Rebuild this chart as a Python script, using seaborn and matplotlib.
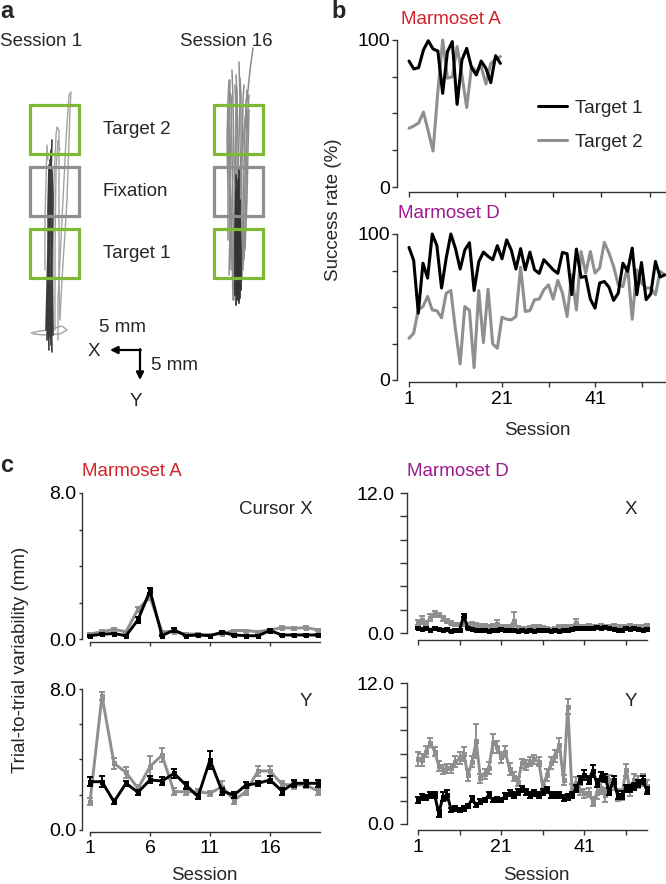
import numpy as np
import pandas as pd
import matplotlib
matplotlib.use("Agg")
import matplotlib.pyplot as plt
import seaborn as sns
from matplotlib.patches import Rectangle
from matplotlib.lines import Line2D

sns.set_theme(style="white")
plt.rcParams['font.family'] = ['Liberation Sans', 'DejaVu Sans']

# ---------------- data ----------------
# panel b: success rate (%)
sessions_A = list(range(1, 21))
successA_t1 = [85.7, 80.3, 81.2, 93.2, 99.5, 93.9, 92.5, 63.7, 92.1, 98.9,
               56.2, 86.4, 94.3, 81.2, 76.2, 85.7, 80.7, 71.0, 89.3, 84.1]
successA_t2 = [40.0, 41.5, 43.5, 51.0, 38.0, 24.5, 65.0, 100.0, 74.0, 75.0,
               95.5, 76.0, 54.0, 82.0, 78.5, 82.0, 70.0, 84.0, 87.0, 88.7]

sessions_D = list(range(1, 57))
successD_t1 = [90.8, 82.0, 45.8, 80.0, 69.8, 100.0, 92.0, 63.0, 83.5, 100.0,
               90.0, 76.0, 89.0, 94.0, 61.3, 81.0, 87.6, 84.7, 82.4, 92.0,
               83.0, 96.0, 89.0, 76.0, 90.0, 75.5, 87.6, 75.5, 73.0, 82.4,
               79.0, 75.5, 73.0, 87.4, 86.5, 58.5, 89.7, 70.3, 71.0, 55.4,
               49.2, 66.4, 67.5, 63.6, 54.5, 59.5, 80.0, 74.4, 90.4, 58.4,
               80.5, 55.0, 59.0, 81.2, 70.5, 72.0]
successD_t2 = [28.6, 32.0, 48.0, 50.3, 57.2, 48.0, 47.4, 42.6, 59.5, 61.3,
               34.3, 11.0, 50.3, 47.6, 8.5, 61.3, 25.6, 62.2, 24.7, 21.7,
               43.0, 41.6, 41.2, 43.5, 77.3, 46.9, 47.6, 55.0, 55.4, 61.8,
               65.2, 55.4, 68.2, 59.5, 43.5, 72.0, 48.0, 88.0, 73.2, 88.0,
               73.2, 76.7, 94.3, 87.0, 77.8, 65.2, 64.0, 77.8, 41.6, 75.5,
               66.4, 63.0, 63.0, 58.4, 74.4, 72.0]

# panel c: trial-to-trial variability (mm), marmoset A
cA_X_t1 = [0.18, 0.26, 0.30, 0.18, 1.05, 2.65, 0.18, 0.50, 0.18, 0.22,
           0.18, 0.37, 0.22, 0.18, 0.18, 0.46, 0.22, 0.22, 0.22, 0.22]
cA_X_t1_err = [0.05, 0.05, 0.05, 0.04, 0.15, 0.15, 0.04, 0.08, 0.04, 0.04,
               0.04, 0.08, 0.04, 0.04, 0.04, 0.08, 0.04, 0.04, 0.04, 0.04]
cA_X_t2 = [0.27, 0.40, 0.53, 0.40, 1.63, 2.30, 0.40, 0.40, 0.27, 0.27,
           0.22, 0.30, 0.46, 0.46, 0.40, 0.50, 0.62, 0.59, 0.62, 0.50]
cA_X_t2_err = [0.06, 0.08, 0.08, 0.06, 0.15, 0.15, 0.06, 0.06, 0.05, 0.05,
               0.05, 0.05, 0.06, 0.06, 0.06, 0.06, 0.07, 0.07, 0.07, 0.07]
cA_Y_t1 = [2.74, 2.74, 1.60, 2.65, 2.14, 2.84, 2.78, 3.21, 2.55, 1.89,
           3.97, 2.21, 1.98, 2.55, 2.65, 2.84, 2.21, 2.65, 2.65, 2.65]
cA_Y_t1_err = [0.25, 0.3, 0.15, 0.15, 0.15, 0.2, 0.2, 0.25, 0.2, 0.15,
               0.5, 0.2, 0.15, 0.15, 0.15, 0.2, 0.2, 0.2, 0.2, 0.2]
cA_Y_t2 = [1.60, 7.60, 3.78, 3.27, 2.36, 3.60, 4.25, 2.17, 2.17, 2.17,
           2.08, 2.46, 1.70, 2.17, 3.35, 3.35, 2.59, 2.55, 2.55, 2.21]
cA_Y_t2_err = [0.2, 0.25, 0.3, 0.3, 0.2, 0.6, 0.4, 0.2, 0.2, 0.15,
               0.15, 0.3, 0.2, 0.2, 0.3, 0.3, 0.2, 0.2, 0.15, 0.2]

# panel c: marmoset D
cD_X_t1 = [0.40, 0.35, 0.40, 0.30, 0.40, 0.35, 0.30, 0.35, 0.20, 0.30,
           0.25, 1.50, 0.40, 0.35, 0.30, 0.30, 0.30, 0.20, 0.25, 0.30,
           0.35, 0.30, 0.25, 0.30, 0.20, 0.25, 0.20, 0.30, 0.20, 0.25,
           0.25, 0.30, 0.20, 0.25, 0.20, 0.30, 0.30, 0.35, 0.40, 0.40,
           0.45, 0.40, 0.45, 0.50, 0.40, 0.50, 0.45, 0.35, 0.30, 0.30,
           0.40, 0.35, 0.40, 0.35, 0.30, 0.35]
cD_X_t1_err = [0.08] * 11 + [0.15] + [0.08] * 44
cD_X_t2 = [0.90, 1.10, 0.85, 1.30, 1.60, 1.55, 1.25, 1.05, 0.90, 0.75,
           0.75, 0.80, 0.75, 0.80, 0.70, 0.65, 0.60, 0.55, 0.60, 0.75,
           0.50, 0.55, 0.50, 1.00, 0.45, 0.40, 0.40, 0.45, 0.55, 0.50,
           0.45, 0.35, 0.30, 0.40, 0.50, 0.45, 0.55, 0.50, 0.90, 0.55,
           0.55, 0.60, 0.55, 0.55, 0.60, 0.50, 0.55, 0.60, 0.55, 0.50,
           0.50, 0.60, 0.55, 0.50, 0.50, 0.60]
cD_X_t2_err = [0.2, 0.35, 0.2, 0.3, 0.25, 0.2, 0.2, 0.15, 0.15, 0.15,
               0.15, 0.15, 0.15, 0.15, 0.15, 0.15, 0.15, 0.15, 0.15, 0.35,
               0.15, 0.15, 0.15, 0.8, 0.15, 0.15, 0.15, 0.15, 0.15, 0.15,
               0.15, 0.15, 0.15, 0.15, 0.15, 0.25, 0.15, 0.15, 0.3, 0.15,
               0.15, 0.15, 0.15, 0.15, 0.15, 0.15, 0.15, 0.15, 0.15, 0.15,
               0.15, 0.15, 0.15, 0.15, 0.15, 0.15]
cD_Y_t1 = [2.04, 2.33, 2.27, 2.47, 2.47, 0.91, 2.33, 2.47, 1.19, 1.33,
           1.19, 1.33, 1.53, 2.10, 1.62, 1.90, 2.04, 2.47, 2.04, 2.10,
           2.04, 2.38, 2.61, 2.47, 2.75, 2.95, 2.75, 2.47, 2.61, 2.47,
           2.75, 2.89, 2.47, 2.47, 2.47, 2.18, 2.27, 2.47, 3.04, 3.74,
           4.17, 3.74, 4.54, 3.46, 4.03, 3.89, 2.75, 3.74, 2.47, 2.47,
           3.04, 3.04, 3.18, 3.46, 3.74, 2.89]
cD_Y_t1_err = [0.25, 0.25, 0.2, 0.25, 0.25, 0.3, 0.4, 0.4, 0.2, 0.2,
               0.2, 0.2, 0.2, 0.25, 0.2, 0.2, 0.2, 0.25, 0.2, 0.2,
               0.2, 0.25, 0.25, 0.25, 0.25, 0.25, 0.25, 0.25, 0.25, 0.25,
               0.25, 0.25, 0.25, 0.25, 0.25, 0.25, 0.25, 0.25, 0.3, 0.35,
               0.4, 0.35, 0.5, 0.35, 0.4, 0.35, 0.3, 0.35, 0.3, 0.3,
               0.3, 0.3, 0.3, 0.3, 0.35, 0.3]
cD_Y_t2 = [5.50, 5.45, 6.16, 6.92, 6.16, 4.94, 4.65, 4.74, 4.74, 5.31,
           5.59, 5.96, 4.17, 5.31, 7.06, 3.89, 4.26, 4.74, 6.87, 6.58,
           5.67, 6.16, 4.65, 4.03, 3.60, 5.16, 5.02, 5.31, 5.50, 5.31,
           3.23, 4.17, 5.16, 5.79, 6.72, 3.74, 10.0, 2.89, 3.46, 2.89,
           2.61, 2.67, 1.91, 2.61, 3.04, 2.47, 3.74, 3.32, 2.47, 2.47,
           4.60, 2.89, 3.74, 3.60, 3.74, 3.23]
cD_Y_t2_err = [0.6, 0.5, 0.5, 0.4, 0.4, 0.4, 0.4, 0.4, 0.4, 0.5,
               0.5, 0.6, 0.5, 0.5, 1.45, 0.4, 0.4, 0.5, 0.8, 0.5,
               0.5, 0.5, 0.5, 0.4, 0.4, 0.4, 0.4, 0.4, 0.4, 0.4,
               0.4, 0.5, 0.5, 0.5, 0.6, 0.4, 0.6, 0.5, 0.5, 0.4,
               0.4, 0.4, 0.4, 0.5, 0.5, 0.6, 0.4, 0.4, 0.5, 0.4,
               0.5, 0.5, 0.5, 0.5, 0.5, 0.5]

# panel a: schematic (coordinates of the drawing, in px of the panel)
box_cx = [54, 238.5]
box_cy = [129, 191.5, 253]
box_labels = ["Target 2", "Fixation", "Target 1"]
box_size = 49
session1_dark = [
    [(49, 350), (48, 300), (49, 240), (50, 190), (51, 150)],
    [(51, 345), (50, 290), (50, 230), (51, 175), (52, 140)],
    [(47, 340), (48, 280), (49, 220), (50, 180), (50, 160)],
    [(52, 352), (51, 300), (52, 250), (53, 200), (52, 170)],
    [(50, 338), (49, 270), (48, 210), (49, 165)],
    [(46, 330), (47, 290), (48, 250), (49, 200)],
    [(53, 335), (52, 280), (51, 220), (52, 180)],
]
session1_gray = [
    [(58, 340), (58, 300), (62, 220), (66, 140), (69, 95), (71, 92), (70, 110), (67, 200), (62, 280), (60, 318)],
    [(53, 335), (53, 260), (54, 180), (56, 135), (57, 127), (59, 130), (59, 200), (59, 280), (60, 320)],
    [(45, 270), (45, 220), (46, 180), (47, 145), (48, 160)],
    [(55, 330), (55, 250), (56, 170), (58, 140), (60, 150)],
    [(31, 333), (40, 331), (48, 330), (55, 328), (62, 326), (67, 330), (60, 334), (45, 335), (33, 334)],
]
session16_gray = [
    [(233, 300), (232, 250), (230, 180), (229, 120), (230, 80)],
    [(236, 295), (235, 230), (234, 160), (233, 100), (232, 70)],
    [(238, 290), (238, 220), (238, 150), (237, 95), (236, 75)],
    [(240, 285), (241, 220), (242, 150), (243, 100), (244, 85)],
    [(242, 280), (243, 200), (245, 130), (247, 90), (248, 100)],
    [(237, 300), (239, 200), (244, 130), (250, 70), (253, 48)],
    [(228, 240), (228, 190), (227, 140), (228, 100), (229, 80)],
    [(231, 270), (230, 200), (231, 130), (232, 95)],
    [(244, 260), (246, 190), (247, 130), (246, 100)],
    [(235, 240), (236, 170), (236, 110), (235, 85)],
    [(234, 290), (233, 220), (232, 150), (231, 100), (230, 92)],
    [(239, 280), (240, 200), (241, 140), (241, 95), (240, 78)],
    [(232, 260), (231, 200), (229, 150), (229, 110), (230, 98)],
    [(243, 270), (244, 210), (246, 150), (248, 110), (249, 95)],
    [(236, 285), (237, 210), (239, 140), (240, 100), (239, 62)],
    [(229, 275), (230, 230), (229, 170), (228, 120)],
    [(245, 250), (247, 200), (248, 150), (249, 110)],
    [(234, 300), (234, 240), (235, 180), (236, 120), (237, 90)],
]
session16_dark = [
    [(236, 305), (237, 260), (237, 210), (236, 175)],
    [(238, 300), (238, 250), (239, 200), (239, 170)],
    [(240, 298), (240, 245), (240, 200)],
    [(235, 295), (235, 240), (236, 190)],
    [(239, 303), (239, 265), (238, 225), (238, 180)],
    [(237, 298), (236, 250), (236, 200), (237, 185)],
    [(241, 290), (241, 250), (240, 215)],
]
scale_origin = (140, 350)
scale_len = 30

# ---------------- style ----------------
W, H = 666, 884
FS = 13.5
TFS = 14
BLACK = "#000000"
GRAY = "#8f8f8f"
GREEN = "#7fba35"
BOXGRAY = "#8e8e8e"
RED = "#d2232a"
PURPLE = "#9e1a8e"
SPINE = "#333333"

fig = plt.figure(figsize=(W / 100, H / 100), dpi=100)


def rect(l, t, r, b):
    return [l / W, 1 - b / H, (r - l) / W, (b - t) / H]


def ftext(x, y, s, **kw):
    kw.setdefault("fontsize", FS)
    kw.setdefault("va", "center")
    fig.text(x / W, 1 - y / H, s, **kw)


def style_axis(ax, xb, yb, xticks, xlabels, yticks, ylabels, tl_x, tl_y, pad_x, pad_y):
    for s in ["top", "right"]:
        ax.spines[s].set_visible(False)
    for s in ["left", "bottom"]:
        ax.spines[s].set_color(SPINE)
        ax.spines[s].set_linewidth(1.0)
    ax.spines["bottom"].set_bounds(*xb)
    ax.spines["left"].set_bounds(*yb)
    ax.set_xticks(xticks)
    ax.set_xticklabels(xlabels)
    ax.set_yticks(yticks)
    ax.set_yticklabels(ylabels)
    ax.tick_params(axis="x", bottom=True, direction="out", length=tl_x, width=1.0,
                   color=SPINE, labelsize=TFS, pad=pad_x, labelcolor="black")
    ax.tick_params(axis="y", left=True, direction="out", length=tl_y, width=1.0,
                   color=SPINE, labelsize=TFS, pad=pad_y, labelcolor="black")
    ax.set_xlabel("")
    ax.set_ylabel("")
    ax.patch.set_alpha(0)


# ---------------- panel a ----------------
axa = fig.add_axes(rect(0, 0, 330, 420))


def traces_df(traces):
    rows = []
    for i, tr in enumerate(traces):
        for j, (x, y) in enumerate(tr):
            rows.append({"trace": i, "order": j, "x": x, "y": y})
    return pd.DataFrame(rows)


for traces, col, lw in [(session1_gray, "#a3a3a3", 1.0), (session1_dark, "#3a3a3a", 1.2),
                        (session16_gray, "#8c8c8c", 1.1), (session16_dark, "#333333", 1.3)]:
    df = traces_df(traces)
    sns.lineplot(data=df, x="x", y="y", units="trace", estimator=None, sort=False,
                 color=col, lw=lw, ax=axa, legend=False)
axa.set_xlim(0, 330)
axa.set_ylim(420, 0)
axa.axis("off")

for cx in box_cx:
    for cy, lab in zip(box_cy, box_labels):
        col = BOXGRAY if lab == "Fixation" else GREEN
        axa.add_patch(Rectangle((cx - box_size / 2, cy - box_size / 2), box_size, box_size,
                                fill=False, ec=col, lw=2.3, zorder=5))
for cy, lab in zip(box_cy, box_labels):
    axa.text(103, cy, lab, fontsize=FS, va="center", ha="left")

ox, oy = scale_origin
axa.annotate("", xy=(ox - scale_len, oy), xytext=(ox + 0.8, oy),
             arrowprops=dict(arrowstyle="-|>", lw=1.6, color="black", mutation_scale=11,
                             shrinkA=0, shrinkB=0))
axa.annotate("", xy=(ox, oy + scale_len), xytext=(ox, oy - 0.8),
             arrowprops=dict(arrowstyle="-|>", lw=1.6, color="black", mutation_scale=11,
                             shrinkA=0, shrinkB=0))
axa.text(99, 327, "5 mm", fontsize=FS, va="center", ha="left")
axa.text(94, 352, "X", fontsize=FS, va="center", ha="center")
axa.text(151, 365, "5 mm", fontsize=FS, va="center", ha="left")
axa.text(136, 402, "Y", fontsize=FS, va="center", ha="center")

ftext(0, 41, "Session 1", ha="left")
ftext(180, 41, "Session 16", ha="left")

# ---------------- panel b ----------------
axb1 = fig.add_axes(rect(397, 40, 666, 192))
dfA = pd.DataFrame({"Session": sessions_A, "Target 1": successA_t1, "Target 2": successA_t2})
sns.lineplot(data=dfA, x="Session", y="Target 2", color=GRAY, lw=2.2, ax=axb1, clip_on=False)
sns.lineplot(data=dfA, x="Session", y="Target 1", color=BLACK, lw=2.2, ax=axb1, clip_on=False)
axb1.set_xlim(1 - 12 / 4.81, 1 + (666 - 409) / 4.81)
axb1.set_ylim(-5 / 1.47, 100)
style_axis(axb1, (1, 1 + (666 - 409) / 4.81), (0, 100), [1, 11, 21, 31, 41, 51], [""] * 6,
           [0, 25, 50, 75, 100], ["0", "", "", "", "100"], 3.6, 3.6, 3, 1.5)

axb2 = fig.add_axes(rect(397, 234, 666, 382))
dfD = pd.DataFrame({"Session": sessions_D, "Target 1": successD_t1, "Target 2": successD_t2})
sns.lineplot(data=dfD, x="Session", y="Target 2", color=GRAY, lw=2.2, ax=axb2, clip_on=False)
sns.lineplot(data=dfD, x="Session", y="Target 1", color=BLACK, lw=2.2, ax=axb2, clip_on=False)
axb2.set_xlim(1 - 12 / 4.65, 1 + (666 - 409) / 4.65)
axb2.set_ylim(-2 / 1.46, 100)
style_axis(axb2, (1, 1 + (666 - 409) / 4.65), (0, 100), [1, 11, 21, 31, 41, 51],
           ["1", "", "21", "", "41", ""],
           [0, 25, 50, 75, 100], ["0", "", "", "", "100"], 3.6, 3.6, 3, 1.5)

handles = [Line2D([0], [0], color=BLACK, lw=2.2), Line2D([0], [0], color=GRAY, lw=2.2)]
fig.legend(handles, ["Target 1", "Target 2"], loc="center left",
           bbox_to_anchor=(529 / W, 1 - 125 / H), frameon=False, fontsize=FS,
           handlelength=1.55, handletextpad=0.4, labelspacing=0.9, borderpad=0)

ftext(401, 19, "Marmoset A", color=RED, ha="left")
ftext(398, 214, "Marmoset D", color=PURPLE, ha="left")
ftext(537, 430, "Session", ha="center")
ftext(334, 210, "Success rate (%)", rotation=90, ha="center")

# ---------------- panel c ----------------


def plot_c(ax, sess, t1, e1, t2, e2):
    for vals, errs, col in [(t2, e2, GRAY), (t1, e1, BLACK)]:
        df = pd.DataFrame({"Session": sess, "v": vals})
        sns.lineplot(data=df, x="Session", y="v", ax=ax, color=col, lw=2.1, marker="s",
                     markersize=3.6, markeredgewidth=0, clip_on=False)
        ax.errorbar(sess, vals, yerr=errs, fmt="none", ecolor=col, elinewidth=1.4,
                    capsize=2.3, capthick=1.4, clip_on=False)


axc1 = fig.add_axes(rect(82, 493, 320, 642))
plot_c(axc1, sessions_A, cA_X_t1, cA_X_t1_err, cA_X_t2, cA_X_t2_err)
axc1.set_xlim(1 - 8 / 12, 1 + (320 - 90) / 12)
axc1.set_ylim(-3 / 18.25, 8)
style_axis(axc1, (1, 1 + (320 - 90) / 12), (0, 8), [1, 6, 11, 16], [""] * 4,
           [0, 2, 4, 6, 8], ["0.0", "", "", "", "8.0"], 2.6, 2.4, 3, 1.5)

axc2 = fig.add_axes(rect(82, 689, 320, 832))
plot_c(axc2, sessions_A, cA_Y_t1, cA_Y_t1_err, cA_Y_t2, cA_Y_t2_err)
axc2.set_xlim(1 - 8 / 12, 1 + (320 - 90) / 12)
axc2.set_ylim(-2 / 17.6, 8)
style_axis(axc2, (1, 1 + (320 - 90) / 12), (0, 8), [1, 6, 11, 16], ["1", "6", "11", "16"],
           [0, 2, 4, 6, 8], ["0.0", "", "", "", "8.0"], 2.6, 2.4, 3, 1.5)

axc3 = fig.add_axes(rect(407, 493, 647, 640))
plot_c(axc3, sessions_D, cD_X_t1, cD_X_t1_err, cD_X_t2, cD_X_t2_err)
axc3.set_xlim(1 - 11 / 4.16, 1 + (647 - 418) / 4.16)
axc3.set_ylim(-7 / 11.67, 12)
style_axis(axc3, (1, 1 + (647 - 418) / 4.16), (0, 12), [1, 11, 21, 31, 41, 51], [""] * 6,
           [0, 2, 4, 6, 8, 10, 12], ["0.0", "", "", "", "", "", "12.0"], 3.4, 4.8, 3, 4)

axc4 = fig.add_axes(rect(407, 683, 647, 830))
plot_c(axc4, sessions_D, cD_Y_t1, cD_Y_t1_err, cD_Y_t2, cD_Y_t2_err)
axc4.set_xlim(1 - 11 / 4.16, 1 + (647 - 418) / 4.16)
axc4.set_ylim(-6 / 11.75, 12)
style_axis(axc4, (1, 1 + (647 - 418) / 4.16), (0, 12), [1, 11, 21, 31, 41, 51],
           ["1", "", "21", "", "41", ""],
           [0, 2, 4, 6, 8, 10, 12], ["0.0", "", "", "", "", "", "12.0"], 3.4, 4.8, 3, 4)

ftext(82, 472, "Marmoset A", color=RED, ha="left")
ftext(407, 472, "Marmoset D", color=PURPLE, ha="left")
ftext(313, 510, "Cursor X", ha="right")
ftext(637, 510, "X", ha="right")
ftext(312, 702, "Y", ha="right")
ftext(637, 702, "Y", ha="right")
ftext(204, 876, "Session", ha="center")
ftext(536, 876, "Session", ha="center")
ftext(21, 660, "Trial-to-trial variability (mm)", rotation=90, ha="center")

# panel letters
ftext(0, 12, "a", fontsize=17, fontweight="bold", ha="left")
ftext(331, 12, "b", fontsize=17, fontweight="bold", ha="left")
ftext(0, 466, "c", fontsize=17, fontweight="bold", ha="left")

fig.savefig("out.png", dpi=100)
